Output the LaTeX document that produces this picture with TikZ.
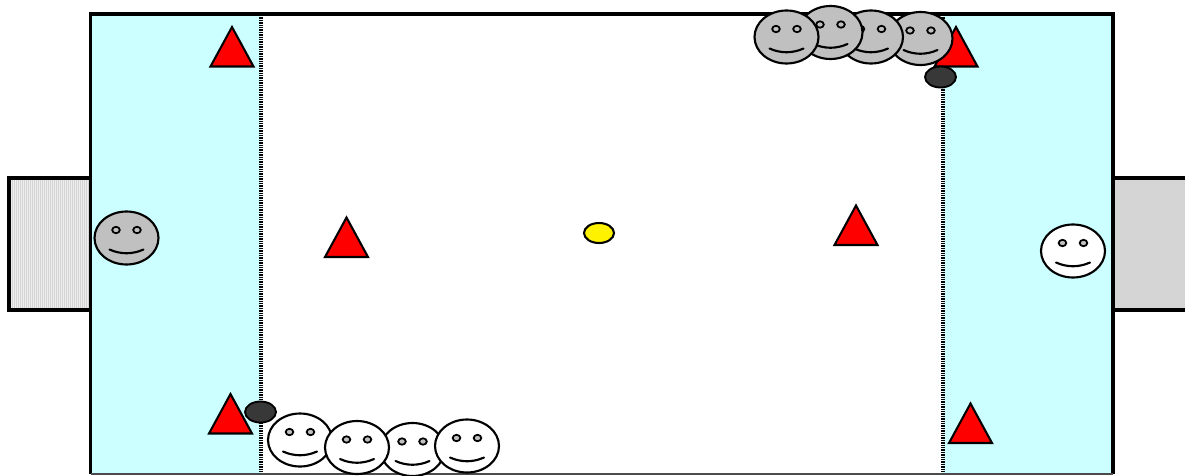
\documentclass[tikz,border=0pt]{standalone}
\usetikzlibrary{patterns.meta}
\tikzset{
  px/.style={x=0.75pt,y=-0.75pt},
  heavy/.style={draw=black,line width=2.5pt,line cap=butt},
  thin line/.style={draw=black,line width=1.6pt},
  cone/.style={fill=red,draw=black,line width=1.55pt,line join=miter},
  dotline/.style={draw=black,line width=2.6pt,dash pattern=on 1.05pt off 0.75pt},
  goalleft/.style={pattern={Lines[angle=90,distance=1.5pt,line width=0.55pt]},pattern color=black!17},
  goalright/.style={pattern={Dots[distance=1.5pt,radius=0.45pt]},pattern color=black!40},
  disc/.style={fill=black!78,draw=black,line width=1.4pt},
  ball/.style={fill=yellow,draw=black,line width=1.55pt}
}
\definecolor{zonecyan}{HTML}{CCFFFF}
\definecolor{facegray}{HTML}{C0C0C0}
\newcommand{\smiley}[3]{%
  \begin{scope}[shift={(#1,#2)}]
    \draw[thin line,fill=#3] (0,0) ellipse [x radius=32,y radius=26.5];
    \draw[line width=1.3pt,fill=facegray] (-10.5,-8) ellipse [x radius=3.8,y radius=3.2];
    \draw[line width=1.3pt,fill=facegray] (10.5,-8) ellipse [x radius=3.8,y radius=3.2];
    \draw[thin line,line cap=round] (-17,11.5) .. controls (-6,16.5) and (6,16.5) .. (17,11.5);
  \end{scope}}
\newcommand{\conemark}[2]{\draw[cone] (#1,#2) -- (#1+21.5,#2+39.5) -- (#1-21.5,#2+39.5) -- cycle;}
\begin{document}
\begin{tikzpicture}[px]
\useasboundingbox (0,0) rectangle (1185,475);
\fill[white] (0,0) rectangle (1185,475);
% goals
\fill[black!7] (9,178) rectangle (91,310);
\fill[goalleft] (9,178) rectangle (91,310);
\fill[black!9] (1113,178) rectangle (1185,310);
\fill[goalright] (1113,178) rectangle (1185,310);
\draw[heavy] (93,178) -- (9,178) -- (9,310) -- (93,310);
\draw[heavy] (1113,178) -- (1185,178);
\draw[heavy] (1113,310) -- (1185,310);
% zones
\fill[zonecyan] (90.5,14) rectangle (261,474);
\fill[zonecyan] (943,14) rectangle (1113,474);
\draw[dotline] (261,15) -- (261,474);
\draw[dotline] (943,15) -- (943,474);
\draw[heavy] (90.5,474) -- (90.5,14) -- (1113,14) -- (1113,474);
\draw[black!70,line width=1.6pt] (90.5,474) -- (1113,474);
% cones
\conemark{232}{27}
\conemark{346.5}{217.5}
\conemark{856}{205.5}
\conemark{230.5}{394}
\conemark{970.5}{403.5}
\conemark{956}{27}
% top gray players
\smiley{920.5}{38.5}{facegray}
\smiley{871}{37}{facegray}
\smiley{830.5}{32.5}{facegray}
\smiley{786.5}{37}{facegray}
% discs
\draw[disc] (940.5,77) ellipse [x radius=15.5,y radius=10.5];
\draw[disc] (260.5,412) ellipse [x radius=15.5,y radius=10.5];
% bottom white players
\smiley{412.5}{449.5}{white}
\smiley{300}{440}{white}
\smiley{357}{447.5}{white}
\smiley{467}{446}{white}
% keepers
\smiley{126.5}{238}{facegray}
\smiley{1073}{251}{white}
% ball
\draw[ball] (599,233) ellipse [x radius=15,y radius=10];
\end{tikzpicture}
\end{document}
